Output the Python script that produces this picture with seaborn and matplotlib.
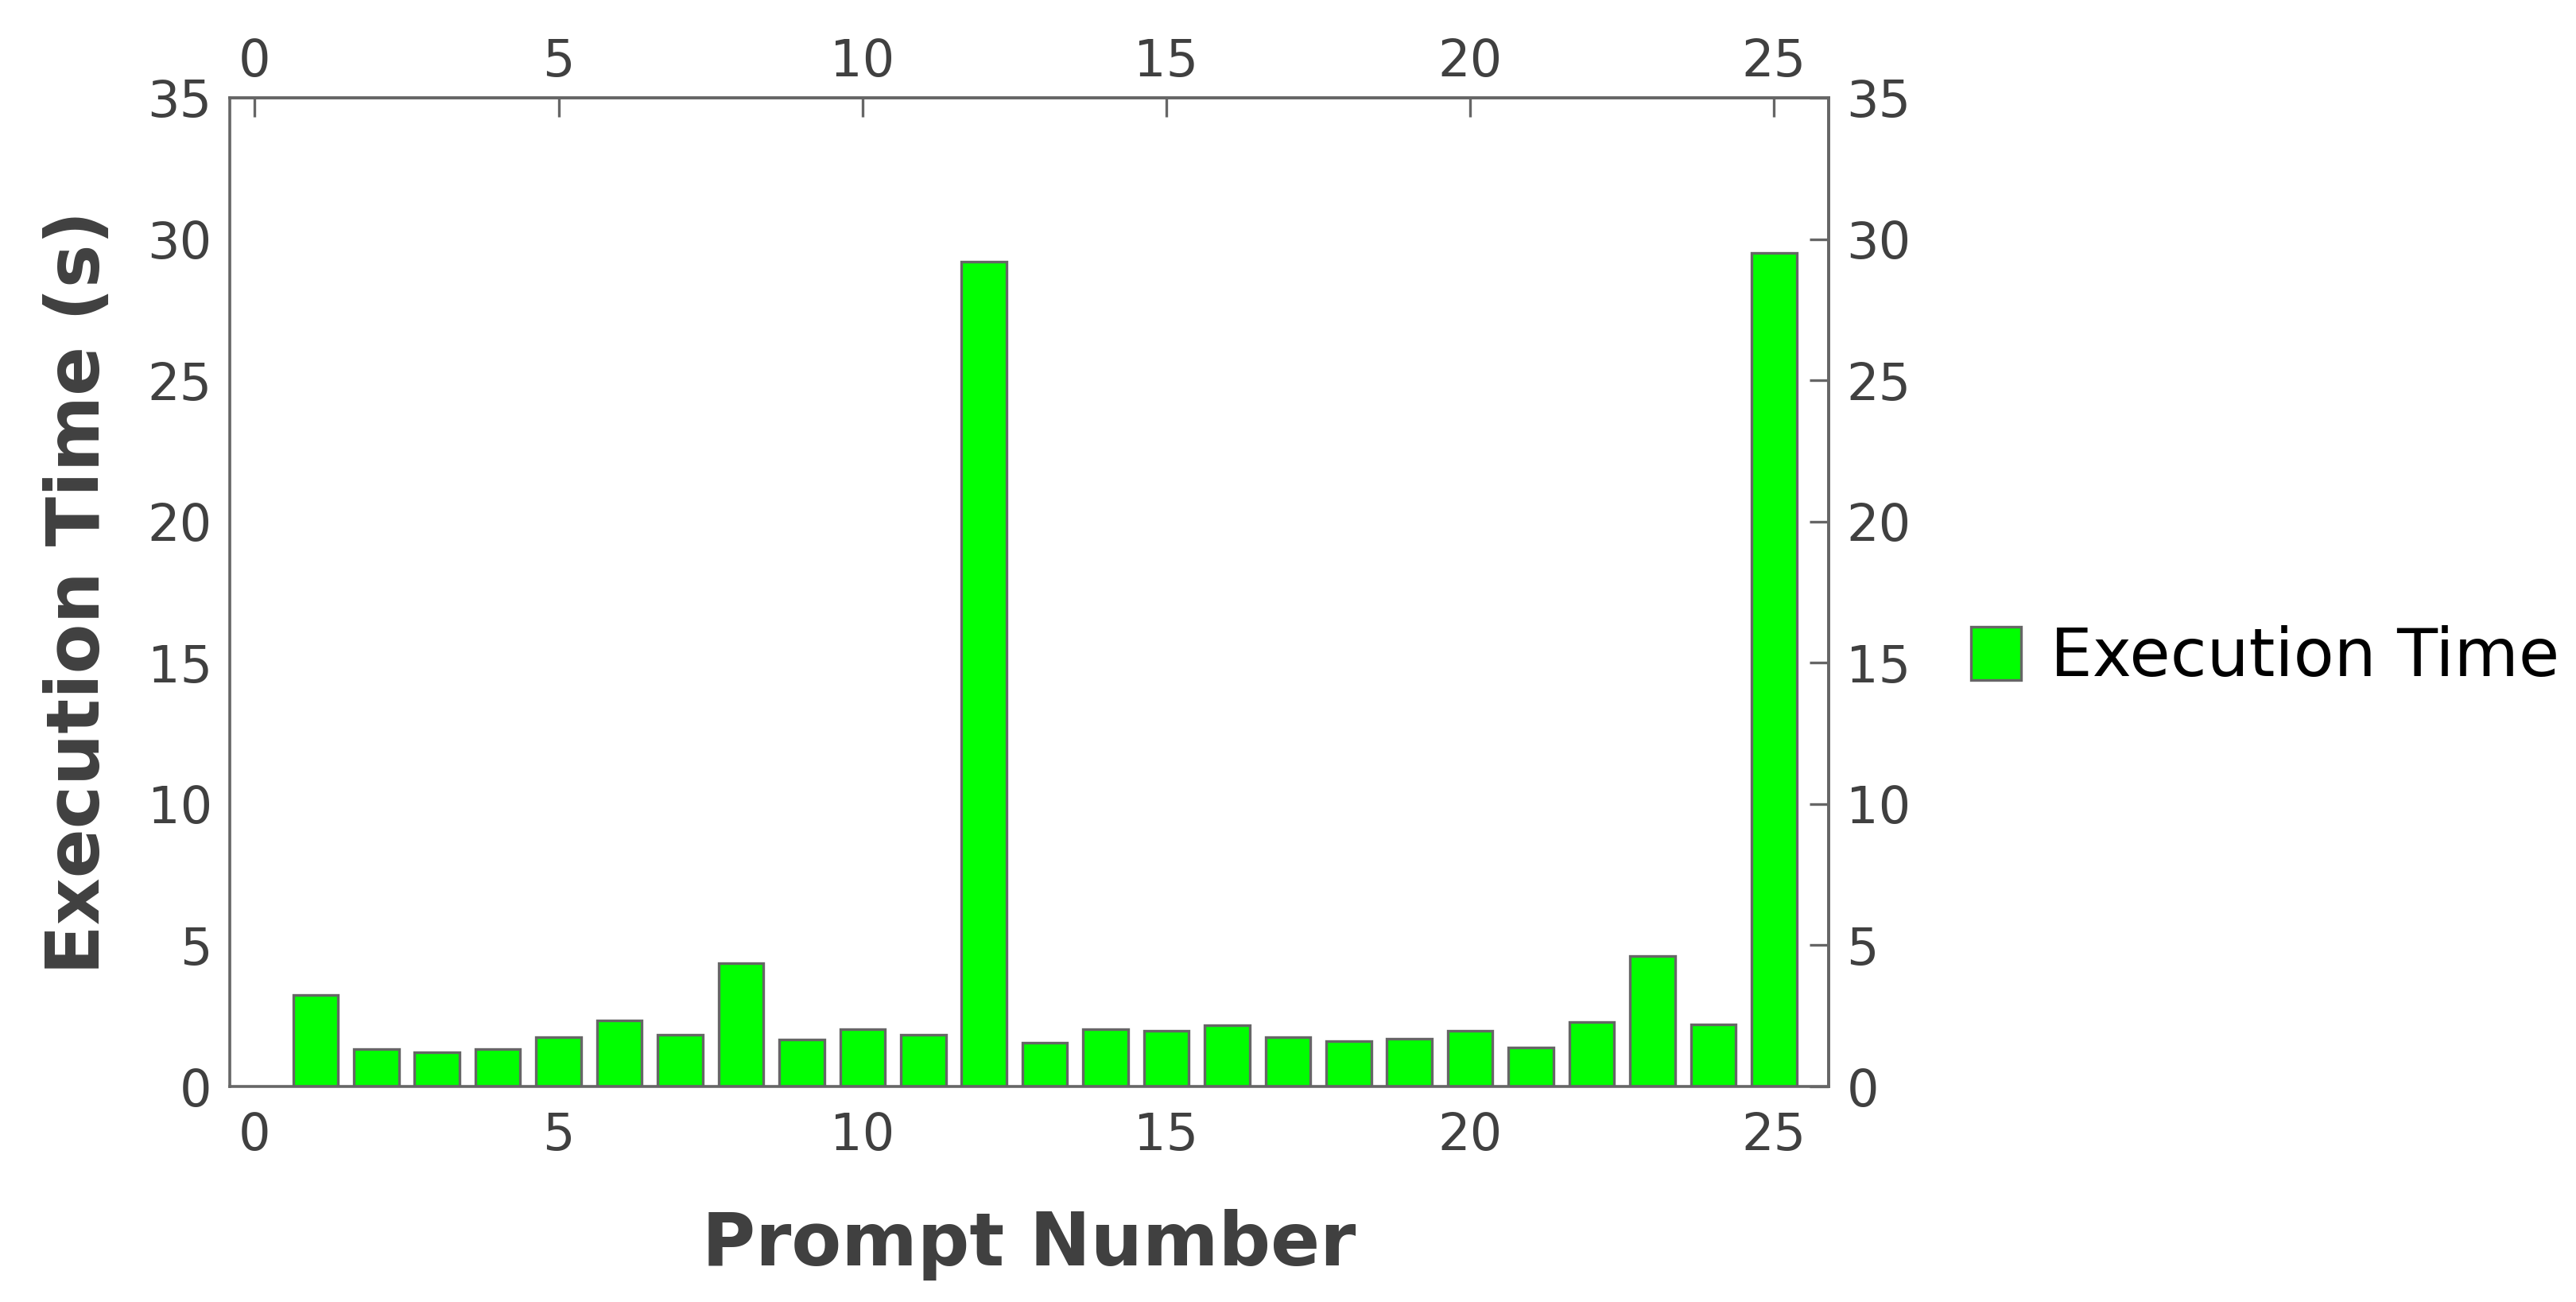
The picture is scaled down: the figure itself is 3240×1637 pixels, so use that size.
import matplotlib
matplotlib.use("Agg")
import matplotlib.pyplot as plt
import seaborn as sns
import pandas as pd

prompts = list(range(1, 26))
exec_time = [3.25, 1.33, 1.20, 1.33, 1.76, 2.35, 1.82, 4.38, 1.65, 2.04,
             1.82, 29.2, 1.56, 2.04, 1.97, 2.17, 1.76, 1.62, 1.70, 1.97,
             1.37, 2.27, 4.61, 2.19, 29.5]
series_name = "Execution Time"
xticks = [0, 5, 10, 15, 20, 25]
yticks = [0, 5, 10, 15, 20, 25, 30, 35]

df = pd.DataFrame({"Prompt Number": prompts, "Execution Time (s)": exec_time,
                   "series": series_name})

sns.set_style("white")
plt.rcParams['font.family'] = ['DejaVu Sans']

fig = plt.figure(figsize=(3241 / 200, 1637 / 200), dpi=200)
fig.patch.set_facecolor("white")
ax = fig.add_axes([0.0892, 0.1655, 0.6205, 0.7594])

sns.barplot(data=df, x="Prompt Number", y="Execution Time (s)", hue="series",
            palette=["#00ff00"], native_scale=True, width=0.74,
            edgecolor="#666666", linewidth=1.2, ax=ax, saturation=1)

ax.set_xlim(-0.41, 25.9)
ax.set_ylim(0, 35)
ax.set_xticks(xticks)
ax.set_yticks(yticks)
ax.set_xticklabels([str(t) for t in xticks])
ax.set_yticklabels([str(t) for t in yticks])

gray = "#666666"
txt = "#404040"
for s in ax.spines.values():
    s.set_visible(True)
    s.set_color(gray)
    s.set_linewidth(1.3)

common = dict(direction="in", length=8.5, width=1.2, color=gray,
              labelcolor=txt, labelsize=23)
ax.tick_params(axis="both", which="major", **common)
ax.tick_params(axis="x", pad=11)
ax.tick_params(axis="y", pad=8)

secx = ax.secondary_xaxis("top")
secx.set_xticks(xticks)
secx.set_xticklabels([str(t) for t in xticks])
secx.tick_params(axis="x", pad=5, **common)
secy = ax.secondary_yaxis("right")
secy.set_yticks(yticks)
secy.set_yticklabels([str(t) for t in yticks])
secy.tick_params(axis="y", pad=8, **common)
for sa in (secx, secy):
    for s in sa.spines.values():
        s.set_color(gray)
        s.set_linewidth(1.3)

ax.set_xlabel("Prompt Number", fontsize=33, fontweight="bold", color=txt, labelpad=22)
ax.set_ylabel("Execution Time (s)", fontsize=33, fontweight="bold", color=txt, labelpad=15)

leg = ax.legend(loc="center left", bbox_to_anchor=(0.765, 0.495),
                bbox_transform=fig.transFigure, frameon=False, fontsize=30,
                borderpad=0, borderaxespad=0,
                handlelength=0.75, handleheight=0.85, handletextpad=0.45)
for t in leg.get_texts():
    t.set_color("black")

fig.savefig("out.png", dpi=200, facecolor="white")
